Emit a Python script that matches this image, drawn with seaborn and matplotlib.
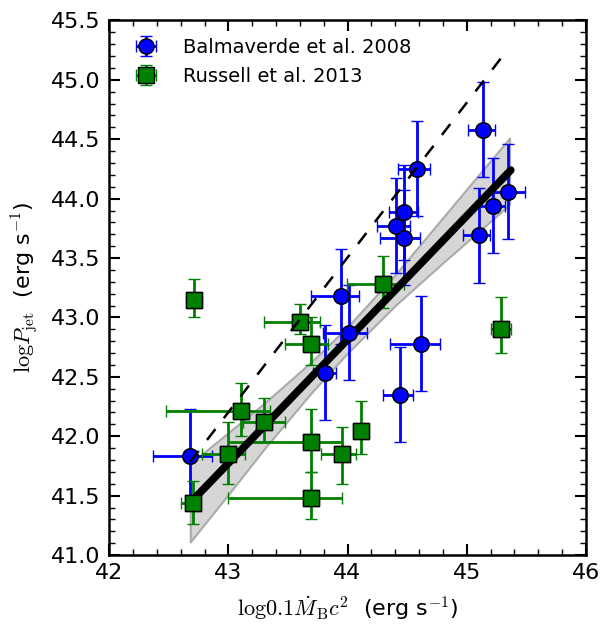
import numpy as np
import pandas as pd
import matplotlib
matplotlib.use('Agg')
import matplotlib.pyplot as plt
from matplotlib.ticker import MultipleLocator
import seaborn as sns

# Balmaverde et al. 2008
bal_x = [45.14, 44.585, 45.35, 45.22, 45.105, 44.47, 44.41, 44.47, 43.945, 44.01, 43.81, 44.615, 44.44, 42.68]
bal_y = [44.58, 44.25, 44.06, 43.94, 43.69, 43.885, 43.77, 43.67, 43.18, 42.87, 42.535, 42.78, 42.35, 41.83]
bal_xlo = [0.13, 0.16, 0.14, 0.12, 0.135, 0.12, 0.16, 0.20, 0.25, 0.22, 0.10, 0.255, 0.14, 0.31]
bal_xhi = [0.10, 0.11, 0.14, 0.10, 0.09, 0.12, 0.11, 0.14, 0.15, 0.155, 0.09, 0.16, 0.11, 0.18]
bal_yerr = [0.4, 0.4, 0.4, 0.4, 0.4, 0.4, 0.4, 0.4, 0.4, 0.4, 0.4, 0.4, 0.4, 0.4]

# Russell et al. 2013
rus_x = [42.71, 44.295, 43.60, 43.69, 45.29, 43.11, 43.30, 43.00, 43.69, 43.95, 44.11, 43.69, 42.70]
rus_y = [43.15, 43.28, 42.96, 42.78, 42.90, 42.21, 42.12, 41.85, 41.95, 41.85, 42.04, 41.48, 41.435]
rus_xlo = [0.05, 0.30, 0.30, 0.215, 0.09, 0.63, 0.175, 0.22, 0.69, 0.17, 0.05, 0.69, 0.10]
rus_xhi = [0.05, 0.175, 0.17, 0.15, 0.08, 0.24, 0.175, 0.14, 0.26, 0.12, 0.05, 0.26, 0.06]
rus_ylo = [0.15, 0.20, 0.10, 0.18, 0.20, 0.21, 0.17, 0.25, 0.25, 0.25, 0.19, 0.18, 0.175]
rus_yhi = [0.17, 0.24, 0.15, 0.22, 0.27, 0.235, 0.20, 0.27, 0.28, 0.23, 0.26, 0.22, 0.185]

# best fit line and its confidence band
fit_x = [42.70, 45.37]
fit_y = [41.46, 44.24]
band_x = [42.68, 43.00, 43.31, 43.70, 44.00, 44.40, 44.80, 45.36]
band_lo = [41.11, 41.51, 41.905, 42.37, 42.70, 43.10, 43.46, 43.95]
band_hi = [41.77, 42.03, 42.285, 42.63, 42.92, 43.36, 43.84, 44.51]

# dashed relation
dash_x = [42.68, 45.34]
dash_y = [41.785, 45.25]

sns.set_style('ticks')
plt.rcParams['font.family'] = ['DejaVu Sans']
plt.rcParams['mathtext.fontset'] = 'cm'
plt.rcParams['text.color'] = 'black'
plt.rcParams['axes.labelcolor'] = 'black'
plt.rcParams['xtick.color'] = 'black'
plt.rcParams['ytick.color'] = 'black'

fig = plt.figure(figsize=(6.02, 6.27), dpi=100)
ax = fig.add_axes([0.1814, 0.1148, 0.7918, 0.8526])

ax.fill_between(band_x, band_lo, band_hi, facecolor='#d6d6d6', edgecolor='#aaaaaa',
                linewidth=1.5, zorder=1)

ekw = dict(elinewidth=2.0, capsize=4, capthick=2.0, markersize=11,
           markeredgecolor='k', markeredgewidth=1, zorder=2)
ax.errorbar(bal_x, bal_y, xerr=[bal_xlo, bal_xhi], yerr=bal_yerr, fmt='o',
            color='b', ecolor='b', markerfacecolor='b',
            label='Balmaverde et al. 2008', **ekw)
ax.errorbar(rus_x, rus_y, xerr=[rus_xlo, rus_xhi], yerr=[rus_ylo, rus_yhi], fmt='s',
            color='g', ecolor='g', markerfacecolor='g',
            label='Russell et al. 2013', **ekw)

sns.lineplot(x=fit_x, y=fit_y, color='k', linewidth=5.5, ax=ax, zorder=3)
sns.scatterplot(x=bal_x, y=bal_y, marker='o', s=121, color='b', edgecolor='k',
                linewidth=1, ax=ax, zorder=4, legend=False)
sns.scatterplot(x=rus_x, y=rus_y, marker='s', s=121, color='g', edgecolor='k',
                linewidth=1, ax=ax, zorder=4, legend=False)
sns.lineplot(x=dash_x, y=dash_y, color='k', linewidth=1.8, linestyle=(0, (5.5, 5.5)),
             ax=ax, zorder=5)

ax.set_xlim(42, 46)
ax.set_ylim(41.0, 45.5)
ax.xaxis.set_major_locator(MultipleLocator(1))
ax.xaxis.set_minor_locator(MultipleLocator(0.2))
ax.yaxis.set_major_locator(MultipleLocator(0.5))
ax.yaxis.set_minor_locator(MultipleLocator(0.1))
ax.yaxis.set_major_formatter(matplotlib.ticker.FormatStrFormatter('%.1f'))
ax.tick_params(which='both', direction='in', top=True, right=True, colors='k')
ax.tick_params(which='major', length=8, width=1.5, labelsize=16, pad=6)
ax.tick_params(which='minor', length=4, width=1)
for sp in ax.spines.values():
    sp.set_linewidth(1.8)
    sp.set_color('k')

ax.set_xlabel(r'$\mathrm{log}0.1\dot{M}_{\rm B}c^2$  (erg s$^{-1}$)', fontsize=16, labelpad=8)
ax.set_ylabel(r'$\mathrm{log}P_{\rm jet}$  (erg s$^{-1}$)', fontsize=16, labelpad=8)

ax.legend(loc='upper left', numpoints=1, frameon=False, fontsize=14,
          handletextpad=0.9, borderaxespad=0.5)

fig.savefig('out.png', dpi=100)
